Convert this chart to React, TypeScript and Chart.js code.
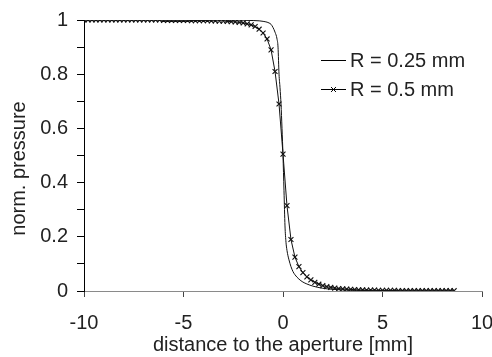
import React, { useEffect, useRef } from "react";
import { Chart, registerables } from "chart.js";

Chart.register(...registerables);

// R = 0.5 mm series (with x markers)
const R05_X = [
  -10, -9.8, -9.6, -9.4, -9.2, -9, -8.8, -8.6, -8.4, -8.2,
  -8, -7.8, -7.6, -7.4, -7.2, -7, -6.8, -6.6, -6.4, -6.2,
  -6, -5.8, -5.6, -5.4, -5.2, -5, -4.8, -4.6, -4.4, -4.2,
  -4, -3.8, -3.6, -3.4, -3.2, -3, -2.8, -2.6, -2.4, -2.2,
  -2, -1.8, -1.6, -1.4, -1.2, -1, -0.8, -0.6, -0.4, -0.2,
  0, 0.2, 0.4, 0.6, 0.8, 1, 1.2, 1.4, 1.6, 1.8,
  2, 2.2, 2.4, 2.6, 2.8, 3, 3.2, 3.4, 3.6, 3.8,
  4, 4.2, 4.4, 4.6, 4.8, 5, 5.2, 5.4, 5.6, 5.8,
  6, 6.2, 6.4, 6.6, 6.8, 7, 7.2, 7.4, 7.6, 7.8,
  8, 8.2, 8.4, 8.6,
];
const R05_Y = [
  1, 1, 1, 1, 1, 1, 1, 1, 1, 1,
  1, 1, 1, 1, 1, 1, 1, 1, 1, 1,
  0.999, 0.999, 0.999, 0.999, 0.999, 0.999, 0.999, 0.998, 0.998, 0.998,
  0.998, 0.998, 0.997, 0.997, 0.996, 0.996, 0.995, 0.994, 0.993, 0.991,
  0.989, 0.986, 0.982, 0.976, 0.966, 0.952, 0.93, 0.89, 0.81, 0.69,
  0.505, 0.315, 0.19, 0.125, 0.09, 0.068, 0.052, 0.041, 0.032, 0.025,
  0.02, 0.016, 0.013, 0.011, 0.009, 0.008, 0.007, 0.006, 0.005, 0.004,
  0.004, 0.003, 0.003, 0.003, 0.002, 0.002, 0.002, 0.002, 0.002, 0.001,
  0.001, 0.001, 0.001, 0.001, 0.001, 0.001, 0.001, 0.001, 0.001, 0.001,
  0.001, 0.001, 0.001, 0.001,
];

// R = 0.25 mm series (plain line)
const R025_X = [
  -10, -8, -6, -4, -3, -2, -1.5, -1.2, -1, -0.8, -0.7, -0.6, -0.5, -0.4,
  -0.3, -0.25, -0.2, -0.15, -0.1, -0.05, 0, 0.05, 0.1, 0.15, 0.2, 0.25,
  0.3, 0.4, 0.5, 0.6, 0.8, 1, 1.2, 1.5, 2, 2.5, 3, 4, 5, 6, 8.6,
];
const R025_Y = [
  1, 1, 1, 1, 1, 0.999, 0.998, 0.997, 0.995, 0.992, 0.989, 0.984, 0.972, 0.955,
  0.93, 0.9, 0.8, 0.75, 0.69, 0.6, 0.5, 0.37, 0.24, 0.18, 0.15, 0.13,
  0.115, 0.09, 0.072, 0.06, 0.044, 0.033, 0.026, 0.018, 0.01, 0.006, 0.004, 0.002, 0.001, 0, 0,
];

const SERIES_LABELS = ["R = 0.25 mm", "R = 0.5 mm"];
const X_TITLE = "distance to the aperture [mm]";
const Y_TITLE = "norm. pressure";

const FONT = "'Liberation Sans', Arial, sans-serif";
const TEXT = "#222";

const legendPlugin = {
  id: "customLegend",
  afterDatasetsDraw(chart: any) {
    const ctx = chart.ctx;
    const rows = [60, 89];
    ctx.save();
    chart.data.datasets.forEach((ds: any, i: number) => {
      const y = rows[i];
      ctx.strokeStyle = "#000";
      ctx.lineWidth = 1;
      ctx.beginPath();
      ctx.moveTo(321, y + 0.5);
      ctx.lineTo(346, y + 0.5);
      ctx.stroke();
      if (ds.pointRadius > 0) {
        const r = 3.5 * 0.707;
        const cx = 333.5;
        const cy = y + 0.5;
        ctx.beginPath();
        ctx.moveTo(cx - r, cy - r);
        ctx.lineTo(cx + r, cy + r);
        ctx.moveTo(cx - r, cy + r);
        ctx.lineTo(cx + r, cy - r);
        ctx.stroke();
      }
      ctx.fillStyle = TEXT;
      ctx.font = `20px ${FONT}`;
      ctx.textAlign = "left";
      ctx.textBaseline = "middle";
      ctx.fillText(ds.label, 350, y + 1);
    });
    ctx.restore();
  },
};

// y-axis title, centred where the reference puts it (slightly below the plot centre)
const yTitlePlugin = {
  id: "yTitle",
  afterDraw(chart: any) {
    const ctx = chart.ctx;
    const area = chart.chartArea;
    ctx.save();
    ctx.translate(19, (area.top + area.bottom) / 2 + 13);
    ctx.rotate(-Math.PI / 2);
    ctx.fillStyle = TEXT;
    ctx.font = `20px ${FONT}`;
    ctx.textAlign = "center";
    ctx.textBaseline = "middle";
    ctx.fillText(Y_TITLE, 0, 0);
    ctx.restore();
  },
};

export default function App() {
  const ref = useRef<HTMLCanvasElement>(null);
  useEffect(() => {
    if (!ref.current) return;
    Chart.defaults.font.family = FONT;
    const chart = new Chart(ref.current, {
      type: "line",
      data: {
        datasets: [
          {
            label: SERIES_LABELS[0],
            data: R025_X.map((x, i) => ({ x, y: R025_Y[i] })),
            borderColor: "#111",
            borderWidth: 1,
            pointRadius: 0,
            cubicInterpolationMode: "monotone",
          },
          {
            label: SERIES_LABELS[1],
            data: R05_X.map((x, i) => ({ x, y: R05_Y[i] })),
            borderColor: "#111",
            borderWidth: 1,
            pointRadius: 3.5,
            pointStyle: "crossRot",
            pointBorderColor: "#111",
            pointBorderWidth: 1.1,
            tension: 0,
          },
        ],
      },
      options: {
        responsive: false,
        animation: false,
        events: [],
        layout: { padding: { top: 20, right: 10, left: 0, bottom: 0 } },
        plugins: { legend: { display: false }, tooltip: { enabled: false } },
        scales: {
          x: {
            type: "linear",
            min: -10,
            max: 10,
            ticks: { stepSize: 5, color: TEXT, font: { size: 20 }, padding: 14, maxRotation: 0 },
            grid: { drawOnChartArea: false, drawTicks: true, tickLength: 6, color: "#444" },
            border: { color: "#8a8a8a", width: 1 },
            title: { display: true, text: X_TITLE, color: TEXT, font: { size: 20 }, padding: { top: 0, bottom: 0 } },
            afterFit: (s: any) => {
              s.height = 66;
              s.paddingLeft = 0;
              s.paddingRight = 0;
            },
          },
          y: {
            min: 0,
            max: 1,
            ticks: {
              stepSize: 0.1,
              color: TEXT,
              font: { size: 20 },
              padding: 9,
              callback: (v: any) => {
                const n = Math.round(Number(v) * 10);
                return n % 2 === 0 ? String(n / 10) : "";
              },
            },
            grid: { drawOnChartArea: false, drawTicks: true, tickLength: 7, color: "#000" },
            border: { color: "#000", width: 1 },
            title: { display: false, text: Y_TITLE },
            afterFit: (s: any) => {
              s.width = 84;
              s.paddingTop = 0;
              s.paddingBottom = 0;
            },
          },
        },
      },
      plugins: [legendPlugin, yTitlePlugin],
    } as any);
    return () => chart.destroy();
  }, []);
  return (
    <div style={{ position: "absolute", left: 0, top: 0, width: 492, height: 357, background: "#fff" }}>
      <canvas ref={ref} width={492} height={357} />
    </div>
  );
}
